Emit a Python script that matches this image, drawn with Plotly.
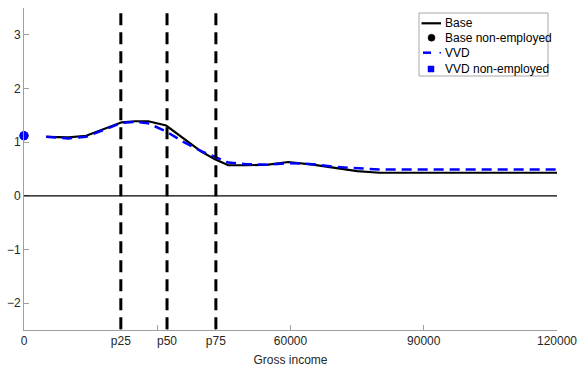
import plotly.graph_objects as go

# Data
income = [5000, 10000, 14000, 20000, 22000, 25000, 28000, 32000, 36000, 40000,
          43000, 46000, 50000, 55000, 59500, 65000, 70000, 75000, 80000,
          90000, 100000, 110000, 120000]
base = [1.10, 1.09, 1.12, 1.30, 1.37, 1.39, 1.39, 1.31, 1.06, 0.82,
        0.68, 0.57, 0.57, 0.58, 0.63, 0.58, 0.52, 0.46, 0.43,
        0.43, 0.43, 0.43, 0.43]
vvd = [1.10, 1.07, 1.10, 1.29, 1.36, 1.38, 1.35, 1.20, 1.00, 0.83,
       0.72, 0.62, 0.59, 0.58, 0.61, 0.59, 0.54, 0.51, 0.49,
       0.49, 0.49, 0.49, 0.49]
nonemp_x = [0]
base_nonemp = [1.12]
vvd_nonemp = [1.12]
percentiles = [21800, 32200, 43200]
tick_vals = [0, 21800, 30000, 32200, 43200, 60000, 90000, 120000]
tick_text = ["0", "p25", "", "p50", "p75", "60000", "90000", "120000"]
y_ticks = [-2, -1, 0, 1, 2, 3]
legend_labels = ["Base", "Base non-employed", "VVD", "VVD non-employed"]

W, H = 580, 367
ML, MR, MT, MB = 24, 23, 8, 37
PW, PH = W - ML - MR, H - MT - MB


def px(x):
    return (x - ML) / PW


def py(y):
    return (H - MB - y) / PH


fig = go.Figure()
fig.add_trace(go.Scatter(x=income, y=base, mode="lines", name=legend_labels[0],
                         line=dict(color="black", width=2.2)))
fig.add_trace(go.Scatter(x=nonemp_x, y=base_nonemp, mode="markers", name=legend_labels[1],
                         marker=dict(color="black", size=9, symbol="circle"), cliponaxis=False))
fig.add_trace(go.Scatter(x=income, y=vvd, mode="lines", name=legend_labels[2],
                         line=dict(color="#0000ff", width=2.5, dash="10px,6px")))
fig.add_trace(go.Scatter(x=nonemp_x, y=vvd_nonemp, mode="markers", name=legend_labels[3],
                         marker=dict(color="#0000ff", size=9, symbol="circle"), cliponaxis=False))

shapes = []
for p in percentiles:
    shapes.append(dict(type="line", x0=p, x1=p, y0=3.4, y1=-2.5, xref="x", yref="y",
                       line=dict(color="black", width=3, dash="12px,7px"), layer="above"))

shapes.append(dict(type="line", x0=0, x1=120000, y0=0, y1=0, xref="x", yref="y",
                   line=dict(color="black", width=1.3)))

# manual legend (MATLAB style)
shapes.append(dict(type="rect", xref="paper", yref="paper",
                   x0=px(419), x1=px(548), y0=py(76), y1=py(13),
                   fillcolor="white", line=dict(color="#a8a8a8", width=1), layer="above"))
rows = [23.3, 37.7, 52.7, 69]
shapes.append(dict(type="line", xref="paper", yref="paper", x0=px(421.5), x1=px(441),
                   y0=py(rows[0]), y1=py(rows[0]), line=dict(color="black", width=2.2),
                   layer="above"))
shapes.append(dict(type="circle", xref="paper", yref="paper", x0=px(428), x1=px(435),
                   y0=py(rows[1] + 3.5), y1=py(rows[1] - 3.5), fillcolor="black",
                   line=dict(color="black", width=0.5), layer="above"))
shapes.append(dict(type="line", xref="paper", yref="paper", x0=px(423), x1=px(431),
                   y0=py(rows[2]), y1=py(rows[2]), line=dict(color="#0000ff", width=2.5),
                   layer="above"))
shapes.append(dict(type="line", xref="paper", yref="paper", x0=px(439.5), x1=px(441),
                   y0=py(rows[2]), y1=py(rows[2]), line=dict(color="#0000ff", width=1.5),
                   layer="above"))
shapes.append(dict(type="rect", xref="paper", yref="paper", x0=px(428), x1=px(434),
                   y0=py(rows[3] + 3), y1=py(rows[3] - 3), fillcolor="#0000ff",
                   line=dict(color="#0000ff", width=0.5), layer="above"))

annotations = []
for lbl, r in zip(legend_labels, rows):
    annotations.append(dict(text=lbl, xref="paper", yref="paper", x=px(442.5), y=py(r),
                            xanchor="left", yanchor="middle", showarrow=False,
                            font=dict(size=12, color="black")))

fig.update_layout(
    width=W, height=H,
    margin=dict(l=ML, r=MR, t=MT, b=MB),
    paper_bgcolor="white", plot_bgcolor="white",
    font=dict(family="Liberation Sans, Arial, sans-serif", size=12, color="#262626"),
    showlegend=False,
    shapes=shapes,
    annotations=annotations,
    xaxis=dict(range=[0, 120000], tickvals=tick_vals, ticktext=tick_text,
               showgrid=False, zeroline=False, showline=True, linecolor="#a0a0a0",
               linewidth=1, ticks="inside", ticklen=5, tickcolor="#a0a0a0",
               title=dict(text="Gross income", standoff=9, font=dict(size=12)),
               automargin=False),
    yaxis=dict(range=[-2.5, 3.5], tickvals=y_ticks, showgrid=False, zeroline=False,
               showline=True, linecolor="#a0a0a0", linewidth=1, ticks="inside",
               ticklen=5, tickcolor="#a0a0a0", automargin=False),
)

fig.write_html("out.html")
